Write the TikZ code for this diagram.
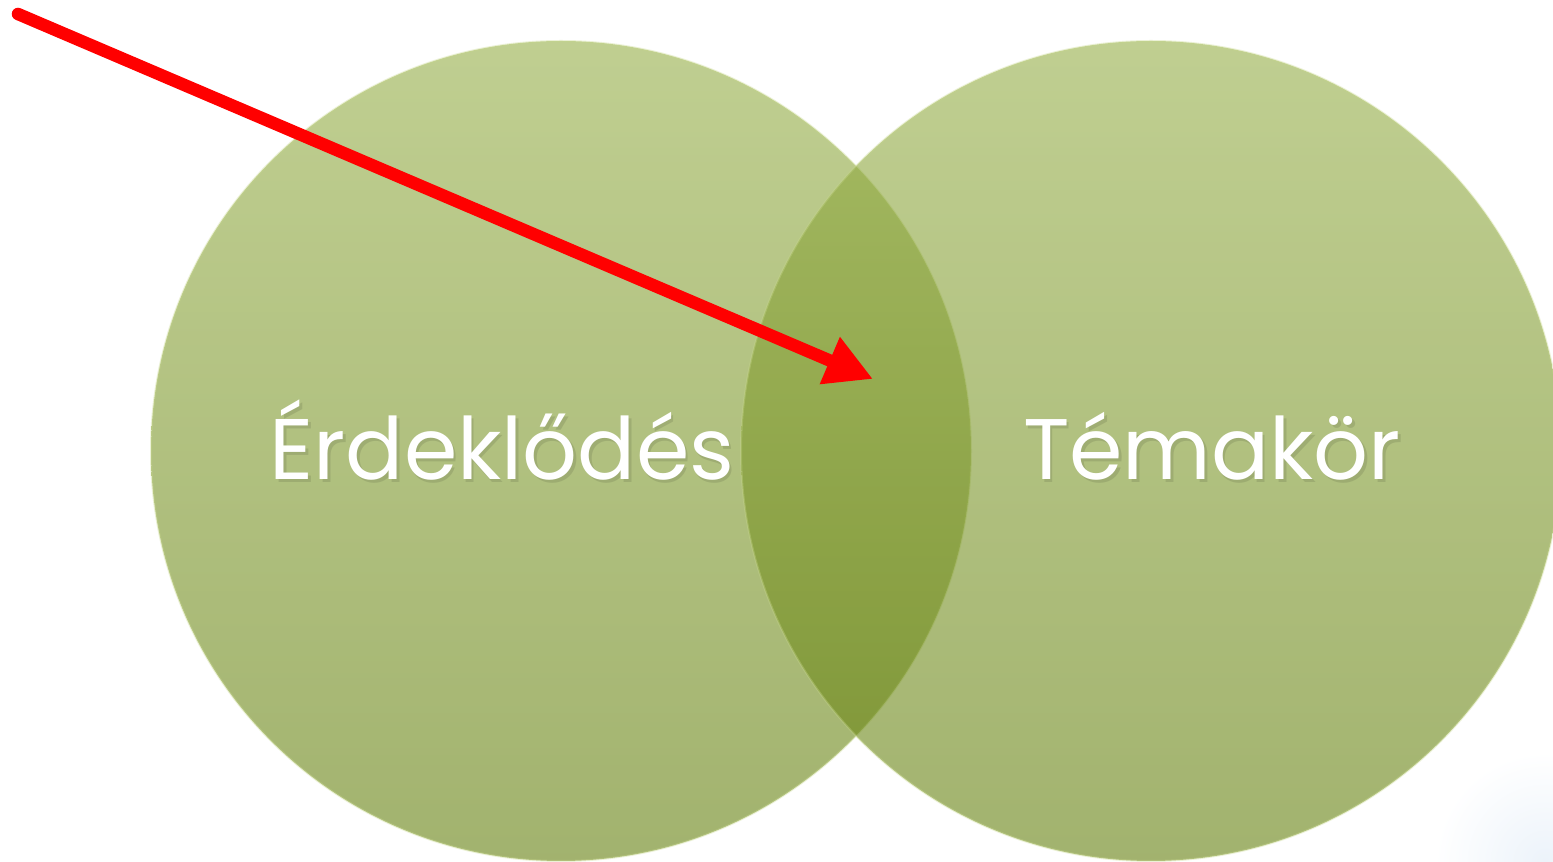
\documentclass[tikz,border=0pt]{standalone}
\usepackage{fontspec}
\setmainfont{Poppins}
\usetikzlibrary{arrows.meta}
\definecolor{gtop}{RGB}{150,175,72}
\definecolor{gbot}{RGB}{100,128,14}
\definecolor{rim}{RGB}{200,216,140}
\definecolor{glow}{RGB}{236,243,250}
\definecolor{arrowred}{RGB}{255,0,0}
\tikzset{
  venn/.style={circle, inner sep=0pt, minimum size=820pt, top color=gtop, bottom color=gbot, fill opacity=0.6, draw=rim, draw opacity=0.35, line width=2pt},
  vlabel/.style={font=\fontsize{86}{86}\selectfont, text=white, inner sep=0pt, anchor=base},
  vshadow/.style={font=\fontsize{86}{86}\selectfont, text=black, text opacity=0.10, inner sep=0pt, anchor=base},
  pointer/.style={draw=arrowred, line width=12.5pt, line cap=round, -{Triangle[length=47pt,width=48pt]}}
}
\begin{document}
\begin{tikzpicture}[x=1pt,y=1pt]
\useasboundingbox (0,0) rectangle (1553,862);
\fill[white] (0,0) rectangle (1553,862);
\begin{scope}
\clip (0,0) rectangle (1553,862);
\shade[inner color=glow, outer color=white] (1545,0) circle (110);
\node[venn] (c1) at (561,411) {};
\node[venn] (c2) at (1151,411) {};
\node[vshadow] (s1) at (504.5,379.5) {Érdeklődés};
\node[vshadow] (s2) at (1214.5,379.5) {Témakör};
\node[vlabel] (t1) at (502,382) {Érdeklődés};
\node[vlabel] (t2) at (1212,382) {Témakör};
\end{scope}
\coordinate (start) at (18,848);
\coordinate (tip) at (873,483);
\draw[pointer] (start) -- (tip);
\end{tikzpicture}
\end{document}
